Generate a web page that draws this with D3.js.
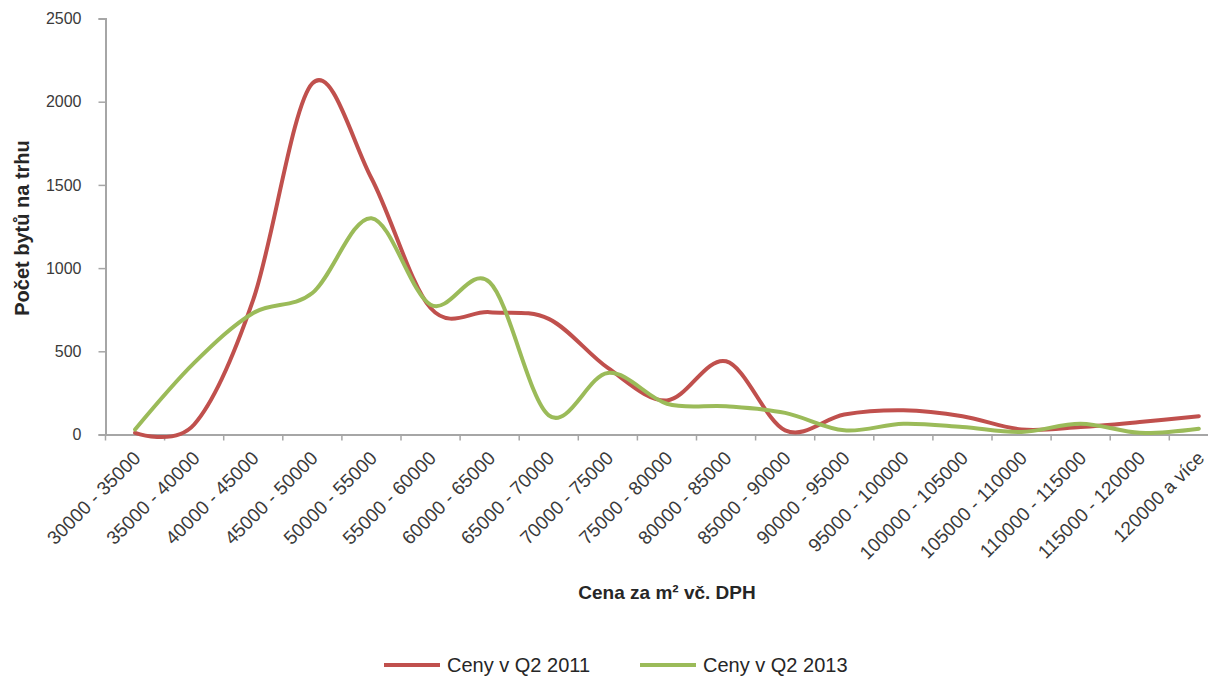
<!DOCTYPE html>
<html>
<head>
<meta charset="utf-8">
<script src="https://cdn.jsdelivr.net/npm/d3@7/dist/d3.min.js"></script>
<style>
  html, body { margin: 0; padding: 0; background: #fff; }
  svg { display: block; font-family: "Liberation Sans", Arial, sans-serif; }
</style>
</head>
<body>
<svg id="chart" width="1208" height="677"></svg>
<script>
const categories = [
  "30000 - 35000", "35000 - 40000", "40000 - 45000", "45000 - 50000",
  "50000 - 55000", "55000 - 60000", "60000 - 65000", "65000 - 70000",
  "70000 - 75000", "75000 - 80000", "80000 - 85000", "85000 - 90000",
  "90000 - 95000", "95000 - 100000", "100000 - 105000", "105000 - 110000",
  "110000 - 115000", "115000 - 120000", "120000 a více"
];
const seriesNames = ["Ceny v Q2 2011", "Ceny v Q2 2013"];
const values2011 = [10, 60, 810, 2110, 1540, 760, 735, 695, 400, 205, 440, 25, 120, 145, 110, 30, 45, 75, 110];
const values2013 = [30, 430, 730, 850, 1300, 780, 915, 115, 370, 185, 170, 130, 25, 65, 45, 15, 65, 10, 35];
const yTicks = [0, 500, 1000, 1500, 2000, 2500];
const colors = ["#C0504D", "#9BBB59"];
const xTitle = "Cena za m\u00B2 v\u010D. DPH";
const yTitle = "Po\u010Det byt\u016F na trhu";

const svg = d3.select("#chart");
const x0 = 105.5, step = 59.1;
const x = d3.scaleBand().domain(categories).range([x0, x0 + step * categories.length]);
const y = d3.scaleLinear().domain([0, 2500]).range([434.5, 18.5]);
const cx = d => x(d) + x.bandwidth() / 2;

// Y axis
const yAxis = d3.axisLeft(y).tickValues(yTicks).tickSize(7).tickPadding(17).tickFormat(d3.format("d"));
const gy = svg.append("g").attr("transform", `translate(${x0},0)`).call(yAxis);
gy.select(".domain").attr("stroke", "#a6a6a6").attr("stroke-width", 2);
gy.selectAll(".tick line").attr("stroke", "#a6a6a6").attr("stroke-width", 1.5);
gy.selectAll(".tick text").attr("fill", "#3a3a3a").style("font-size", "16px").style("font-family", "'Liberation Sans', Arial, sans-serif");

// X axis
const xAxis = d3.axisBottom(x).tickSize(0).tickFormat("");
const gx = svg.append("g").attr("transform", `translate(0,${y(0)})`).call(xAxis);
gx.select(".domain").attr("stroke", "#a6a6a6").attr("stroke-width", 2);
gx.selectAll(".tick").remove();
// category boundary tick marks
svg.append("g").selectAll("line").data(categories).enter().append("line")
  .attr("x1", d => x(d)).attr("x2", d => x(d))
  .attr("y1", y(0)).attr("y2", y(0) + 6)
  .attr("stroke", "#a6a6a6").attr("stroke-width", 1.5);

// X labels
svg.append("g").selectAll("text").data(categories).enter().append("text")
  .attr("transform", d => `translate(${cx(d) + 2},${y(0) + 20}) rotate(-45)`)
  .attr("text-anchor", "end")
  .attr("dy", "0.35em")
  .attr("fill", "#3a3a3a")
  .style("font-size", "19px")
  .text(d => d);

// Axis titles
svg.append("text")
  .attr("x", 667).attr("y", 599)
  .attr("text-anchor", "middle")
  .attr("font-weight", "bold")
  .attr("fill", "#262626")
  .style("font-size", "19px")
  .text(xTitle);

svg.append("text")
  .attr("transform", "translate(29,228) rotate(-90)")
  .attr("text-anchor", "middle")
  .attr("font-weight", "bold")
  .attr("fill", "#262626")
  .style("font-size", "20px")
  .text(yTitle);

// Lines
const line = d3.line()
  .x((d, i) => cx(categories[i]))
  .y(d => y(d))
  .curve(d3.curveCardinal.tension(0));

[values2011, values2013].forEach((vals, k) => {
  svg.append("path")
    .datum(vals)
    .attr("d", line)
    .attr("fill", "none")
    .attr("stroke", colors[k])
    .attr("stroke-width", 4)
    .attr("stroke-linejoin", "round")
    .attr("stroke-linecap", "round");
});

// Legend
const legendX = [384, 640];
legendX.forEach((lx, k) => {
  const g = svg.append("g").attr("transform", `translate(${lx},665)`);
  g.append("line").attr("x1", 0).attr("x2", 56).attr("y1", 0).attr("y2", 0)
    .attr("stroke", colors[k]).attr("stroke-width", 4);
  g.append("text").attr("x", 63).attr("y", 0).attr("dy", "0.35em")
    .attr("fill", "#262626").style("font-size", "20px").text(seriesNames[k]);
});
</script>
</body>
</html>
